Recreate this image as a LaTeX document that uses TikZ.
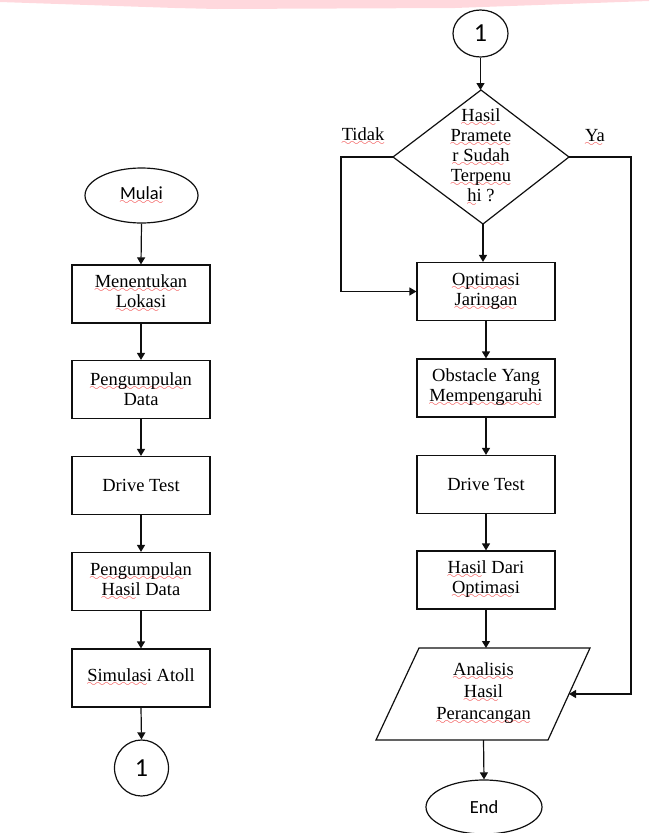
\documentclass[tikz,border=0pt]{standalone}
\usepackage{fontspec}
\setmainfont{Liberation Serif}
\newfontfamily\labelsans{Carlito}
\usepackage{tikz}
\usepackage{xcolor}
\usetikzlibrary{
    shapes.geometric,
    arrows.meta,
    calc
  }
\definecolor{linecolor}{RGB}{15,15,15}
\definecolor{spellred}{RGB}{240,60,60}
\definecolor{bandpink}{RGB}{255,216,221}
% red wavy mark under words, as the spell checker draws it
\font\spellwavefont=lasy6 scaled 1700
\newsavebox\spellwordbox
\newcommand\spellmark[1]{%
  \sbox\spellwordbox{#1}%
  \rlap{\raisebox{-5pt}{\hbox to \wd\spellwordbox{%
    \color{spellred}\leaders\hbox{\spellwavefont\char58}\hfill}}}%
  \usebox\spellwordbox}
\tikzset{
  flowline/.style={draw=linecolor,line width=1.2pt,-{Triangle[length=7pt,width=8pt]}},
  plainline/.style={draw=linecolor,line width=1.2pt},
  procbox/.style={draw=linecolor,line width=1.2pt,rectangle,minimum width=138pt,minimum height=58pt,
    inner sep=0pt,align=center,font=\fontsize{18.5}{20}\selectfont},
  terminal/.style={draw=linecolor,line width=1.2pt,ellipse,inner sep=0pt,
    font=\labelsans\fontsize{18.5}{20}\selectfont},
  pageref/.style={draw=linecolor,line width=1.2pt,ellipse,inner sep=0pt,
    font=\labelsans\fontsize{26}{26}\selectfont},
  flowtext/.style={align=center,inner sep=0pt,font=\fontsize{18.5}{20}\selectfont}
}

\begin{document}
\begin{tikzpicture}[x=1pt, y=-1pt]

\useasboundingbox (0,0) rectangle (649,833);

% band at the top of the page
\path[fill=bandpink]
  (0,0) -- (0,2) -- (175,8) -- (217,9) -- (455,8) -- (649,1) -- (649,0) -- cycle
;

% left column
\path[]
  (141.5,195.5) node[terminal,minimum width=113pt,minimum height=55pt] (mulai) {\spellmark{Mulai}}
;
\path[]
  (141,294) node[procbox] (lokasi) {\spellmark{Menentukan}\\\spellmark{Lokasi}}
;
\path[]
  (141,389.5) node[procbox] (pengumpulan_data) {\spellmark{Pengumpulan}\\Data}
;
\path[]
  (141,485.5) node[procbox] (drive_test_0) {Drive Test}
;
\path[]
  (141,581.5) node[procbox] (pengumpulan_hasil) {\spellmark{Pengumpulan}\\\spellmark{Hasil} Data}
;
\path[]
  (141,678) node[procbox] (atoll) {\spellmark{Simulasi} Atoll}
;
\path[]
  (141.5,768) node[pageref,minimum width=54pt,minimum height=56pt] (page_out) {1}
;

\path[flowline] (mulai.south) -- (lokasi.north);
\path[flowline] (lokasi.south) -- (pengumpulan_data.north);
\path[flowline] (pengumpulan_data.south) -- (drive_test_0.north);
\path[flowline] (drive_test_0.south) -- (pengumpulan_hasil.north);
\path[flowline] (pengumpulan_hasil.south) -- (atoll.north);
\path[flowline] (atoll.south) -- (page_out.north);

% right column
\path[]
  (480.5,33.5) node[pageref,minimum width=55pt,minimum height=47pt] (page_in) {1}
;

\path[plainline]
  (481,90) coordinate (dia_top)
    -- (569,157) coordinate (dia_right)
    -- (483,224) coordinate (dia_bottom)
    -- (393,157) coordinate (dia_left)
    -- cycle
;
\path[]
  (481,158) node[flowtext] (parameter) {\spellmark{Hasil}\\\spellmark{Pramete}\\\spellmark{r Sudah}\\\spellmark{Terpenu}\\\spellmark{hi} ?}
;

\path[]
  (486,291.5) node[procbox] (optimasi) {\spellmark{Optimasi}\\\spellmark{Jaringan}}
;
\path[]
  (486,388) node[procbox] (obstacle) {Obstacle Yang\\\spellmark{Mempengaruhi}}
;
\path[]
  (486,484.5) node[procbox] (drive_test_1) {Drive Test}
;
\path[]
  (486,580) node[procbox] (hasil_optimasi) {\spellmark{Hasil} Dari\\\spellmark{Optimasi}}
;

\path[plainline]
  (419,648) coordinate (analisis_topleft)
    -- (590,648) coordinate (analisis_topright)
    -- (548,740) coordinate (analisis_bottomright)
    -- (376,740) coordinate (analisis_bottomleft)
    -- cycle
;
\path[]
  ($(analisis_topleft)!0.5!(analisis_bottomright)$) node[flowtext,font=\fontsize{18.5}{22}\selectfont] (analisis) {\spellmark{Analisis}\\\spellmark{Hasil}\\\spellmark{Perancangan}}
;
\path[]
  ($(analisis_topright)!0.5!(analisis_bottomright)$) coordinate (analisis_right)
;

\path[]
  (484,807) node[terminal,minimum width=116pt,minimum height=54pt] (end) {End}
;

\path[]
  (341,157) coordinate (tidak_turn)
  (631,157) coordinate (ya_turn)
;
\path[]
  (363,137) node[flowtext] (tidak) {\spellmark{Tidak}}
;
\path[]
  (595,138) node[flowtext] (ya) {\spellmark{Ya}}
;

\path[flowline] (page_in.south) -- (page_in.south |- dia_top);
\path[flowline] (dia_bottom) -- (dia_bottom |- optimasi.north);
\path[flowline] (dia_left) -- (tidak_turn) |- (optimasi.west);
\path[flowline] (dia_right) -- (ya_turn) |- (analisis_right);
\path[flowline] (optimasi.south) -- (obstacle.north);
\path[flowline] (obstacle.south) -- (drive_test_1.north);
\path[flowline] (drive_test_1.south) -- (hasil_optimasi.north);
\path[flowline] (hasil_optimasi.south) -- (hasil_optimasi.south |- analisis_topleft);
\path[flowline] (analisis.south |- analisis_bottomleft) -- (end.north);

\end{tikzpicture}
\end{document}
